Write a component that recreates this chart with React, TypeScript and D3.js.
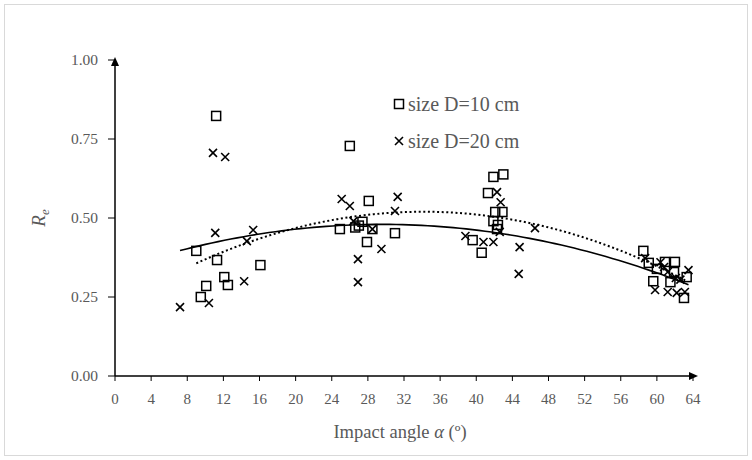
import React from "react";
import * as d3 from "d3";

// D = 10 cm (squares)
const d10Angle = [9.0, 11.2, 11.3, 12.1, 12.5, 10.1, 9.5, 16.1,
  26.0, 28.1, 24.9, 26.6, 27.0, 27.4, 28.5, 27.9, 31.0,
  41.9, 43.0, 41.3, 42.1, 42.9, 41.9, 42.4, 42.3, 39.6, 40.6,
  58.5, 59.1, 60.9, 62.0, 60.0, 61.9, 59.6, 61.5, 63.3, 63.0];
const d10Re = [0.396, 0.823, 0.367, 0.313, 0.288, 0.285, 0.25, 0.351,
  0.728, 0.554, 0.465, 0.47, 0.476, 0.488, 0.465, 0.424, 0.452,
  0.63, 0.638, 0.579, 0.519, 0.519, 0.49, 0.478, 0.465, 0.43, 0.39,
  0.396, 0.358, 0.361, 0.361, 0.339, 0.329, 0.3, 0.297, 0.313, 0.247];

// D = 20 cm (crosses)
const d20Angle = [7.2, 10.4, 10.85, 12.2, 11.1, 15.3, 14.6, 14.3,
  25.1, 26.0, 31.3, 31.0, 26.4, 28.5, 29.5, 26.9, 26.9,
  42.3, 42.7, 42.6, 38.8, 40.8, 41.9, 46.5, 44.8, 44.7,
  58.7, 60.4, 60.8, 61.2, 62.1, 62.6, 63.5, 59.8, 61.2, 62.2, 63.1];
const d20Re = [0.218, 0.231, 0.706, 0.693, 0.453, 0.462, 0.427, 0.3,
  0.56, 0.538, 0.567, 0.522, 0.49, 0.465, 0.402, 0.37, 0.297,
  0.582, 0.55, 0.456, 0.443, 0.424, 0.424, 0.468, 0.408, 0.323,
  0.373, 0.36, 0.345, 0.329, 0.31, 0.305, 0.335, 0.272, 0.266, 0.263, 0.266];

const xTicks = d3.range(0, 65, 4);
const yTicks = [0, 0.25, 0.5, 0.75, 1];
const legendLabels = ["size D=10 cm", "size D=20 cm"];

// quadratic least-squares fit (like an Excel order-2 trendline)
function polyFit(xs: number[], ys: number[]) {
  const n = xs.length;
  let s1 = 0, s2 = 0, s3 = 0, s4 = 0, t0 = 0, t1 = 0, t2 = 0;
  for (let i = 0; i < n; i++) {
    const x = xs[i], y = ys[i];
    s1 += x; s2 += x * x; s3 += x * x * x; s4 += x * x * x * x;
    t0 += y; t1 += x * y; t2 += x * x * y;
  }
  const m = [
    [n, s1, s2, t0],
    [s1, s2, s3, t1],
    [s2, s3, s4, t2],
  ];
  for (let c = 0; c < 3; c++) {
    for (let r = c + 1; r < 3; r++) {
      const f = m[r][c] / m[c][c];
      for (let k = c; k < 4; k++) m[r][k] -= f * m[c][k];
    }
  }
  const b = [0, 0, 0];
  for (let r = 2; r >= 0; r--) {
    let s = m[r][3];
    for (let k = r + 1; k < 3; k++) s -= m[r][k] * b[k];
    b[r] = s / m[r][r];
  }
  return (x: number) => b[0] + b[1] * x + b[2] * x * x;
}

const W = 752;
const H = 460;
const grey = "#595959";
const font = "'Liberation Serif', 'Times New Roman', serif";

export default function App() {
  const x = d3.scaleLinear().domain([0, 64]).range([115, 693]);
  const y = d3.scaleLinear().domain([0, 1]).range([376, 60]);

  const trend = (xs: number[], ys: number[]) => {
    const f = polyFit(xs, ys);
    const [lo, hi] = d3.extent(xs) as [number, number];
    const pts = d3.range(lo, hi + 0.01, (hi - lo) / 80).map((v) => [v, f(v)] as [number, number]);
    return d3.line<[number, number]>().x((d) => x(d[0])).y((d) => y(d[1]))(pts) || "";
  };

  const sq = (cx: number, cy: number, key: any) => (
    <rect key={key} x={cx - 4.5} y={cy - 4.5} width={9} height={9} fill="none" stroke="#000" strokeWidth={1.5} />
  );
  const cross = (cx: number, cy: number, key: any) => (
    <path key={key} d={`M${cx - 4},${cy - 4}L${cx + 4},${cy + 4}M${cx - 4},${cy + 4}L${cx + 4},${cy - 4}`} stroke="#000" strokeWidth={1.6} />
  );

  return (
    <svg width={W} height={H} style={{ position: "absolute", left: 0, top: 0, background: "#fff" }} fontFamily={font}>
      <rect x={4.5} y={4.5} width={W - 9} height={H - 9} fill="#fff" stroke="#d9d9d9" />

      {/* y ticks and labels */}
      {yTicks.map((t) => (
        <g key={t}>
          <line x1={108} x2={115} y1={y(t)} y2={y(t)} stroke="#000" />
          <text x={98} y={y(t)} dy="0.35em" textAnchor="end" fontSize={15.5} fill={grey}>{t.toFixed(2)}</text>
        </g>
      ))}
      {/* x ticks and labels */}
      {xTicks.map((t) => (
        <g key={t}>
          <line x1={x(t)} x2={x(t)} y1={y(0)} y2={y(0) + 5} stroke="#000" />
          <text x={x(t)} y={404} textAnchor="middle" fontSize={15} fill={grey}>{t}</text>
        </g>
      ))}

      {/* axes with arrows */}
      <line x1={x(0)} x2={x(64) + 2} y1={y(0)} y2={y(0)} stroke="#000" strokeWidth={1.5} />
      <path d={`M${x(64) + 5},${y(0)}L${x(64) - 4},${y(0) - 4}L${x(64) - 4},${y(0) + 4}Z`} fill="#000" />
      <line x1={x(0)} x2={x(0)} y1={y(0)} y2={y(1) - 1} stroke="#000" strokeWidth={1.5} />
      <path d={`M${x(0)},${y(1) - 3}L${x(0) - 4},${y(1) + 6}L${x(0) + 4},${y(1) + 6}Z`} fill="#000" />

      {/* trendlines */}
      <path d={trend(d20Angle, d20Re)} fill="none" stroke="#000" strokeWidth={1.6} />
      <path d={trend(d10Angle, d10Re)} fill="none" stroke="#000" strokeWidth={2} strokeDasharray="2,2.6" />

      {/* points */}
      {d10Angle.map((a, i) => sq(x(a), y(d10Re[i]), "s" + i))}
      {d20Angle.map((a, i) => cross(x(a), y(d20Re[i]), "c" + i))}

      {/* legend */}
      {sq(399, 104, "ls")}
      <text x={408} y={104} dy="0.35em" fontSize={20} fill={grey}>{legendLabels[0]}</text>
      {cross(399, 141, "lc")}
      <text x={408} y={141} dy="0.35em" fontSize={20} fill={grey}>{legendLabels[1]}</text>

      {/* axis titles */}
      <text x={400} y={438} textAnchor="middle" fontSize={18.5} fill={grey}>
        Impact angle <tspan fontStyle="italic">α</tspan> (º)
      </text>
      <text transform={`translate(45,${y(0.5)}) rotate(-90)`} textAnchor="middle" fontSize={19} fill={grey} fontStyle="italic">
        R<tspan fontSize={13} dy={4}>e</tspan>
      </text>
    </svg>
  );
}
